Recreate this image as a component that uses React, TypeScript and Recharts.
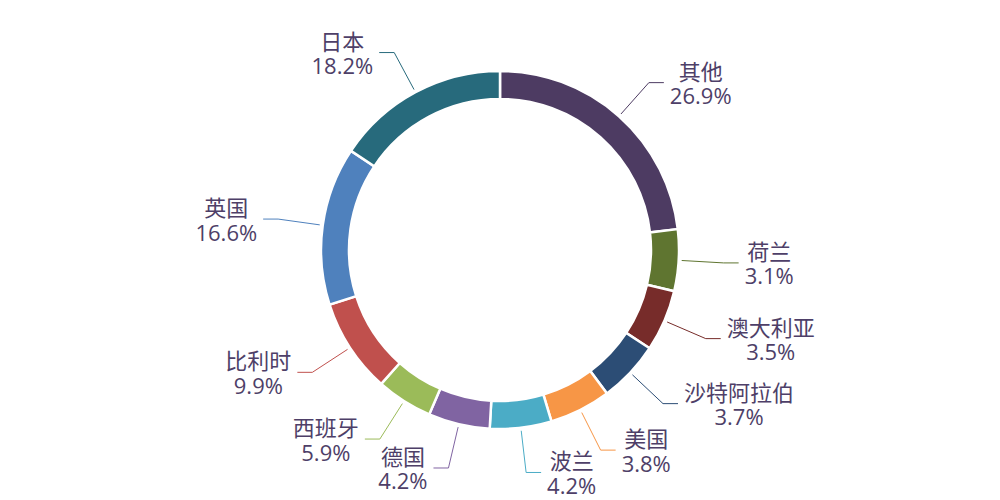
import React from 'react';
import { PieChart, Pie, Cell } from 'recharts';

const countries = ['其他', '荷兰', '澳大利亚', '沙特阿拉伯', '美国', '波兰', '德国', '西班牙', '比利时', '英国', '日本'];
const shares = [26.9, 3.1, 3.5, 3.7, 3.8, 4.2, 4.2, 5.9, 9.9, 16.6, 18.2];
const colors = ['#4D3B62', '#5F7530', '#772C2A', '#2C4D75', '#F79646', '#4BACC6', '#8064A2', '#9BBB59', '#C0504D', '#4F81BD', '#276A7C'];

// small slices are drawn at a minimum sweep, the rest share what is left
const MIN_ANGLE = 20;
const RADIAN = Math.PI / 180;
const TEXT_COLOR = '#4e3f68';
const FONT = '"Open Sans", "Noto Sans CJK SC", sans-serif';
const FONT_SIZE = 22;

function sweepAngles(values: number[]) {
  const total = values.reduce((a, b) => a + b, 0);
  const raw = values.map((v) => (v / total) * 360);
  const small = raw.map((a) => a < MIN_ANGLE);
  const smallCount = small.filter(Boolean).length;
  const restValue = values.reduce((s, v, i) => (small[i] ? s : s + v), 0);
  const restAngle = 360 - smallCount * MIN_ANGLE;
  return values.map((v, i) => (small[i] ? MIN_ANGLE : (v / restValue) * restAngle));
}

const angles = sweepAngles(shares);
const data = countries.map((name, i) => ({ name, share: shares[i], sweep: angles[i] }));

let ctx: CanvasRenderingContext2D | null = null;
function textWidth(s: string) {
  if (!ctx) ctx = document.createElement('canvas').getContext('2d');
  if (ctx) {
    ctx.font = `${FONT_SIZE}px ${FONT}`;
    return ctx.measureText(s).width;
  }
  return s.length * FONT_SIZE * 0.6;
}

const renderLabel = (props: any) => {
  const { cx, cy, midAngle, outerRadius, index } = props;
  const item = data[index];
  const cos = Math.cos(-midAngle * RADIAN);
  const sin = Math.sin(-midAngle * RADIAN);
  const r1 = outerRadius + 3;
  const r2 = outerRadius + 45;
  const sx = cx + r1 * cos;
  const sy = cy + r1 * sin;
  const mx = cx + r2 * cos;
  const my = cy + r2 * sin;
  const right = cos >= 0;
  const ex = mx + (right ? 15 : -15);
  const line1 = item.name;
  const line2 = `${item.share.toFixed(1)}%`;
  const w = Math.max(textWidth(line1), textWidth(line2));
  const blockCenter = right ? ex + 6 + w / 2 : ex - 6 - w / 2;
  return (
    <g key={`label-${index}`}>
      <polyline
        points={`${sx},${sy} ${mx},${my} ${ex},${my}`}
        fill="none"
        stroke={colors[index]}
        strokeWidth={1}
      />
      <text
        textAnchor="middle"
        dominantBaseline="central"
        fill={TEXT_COLOR}
        fontSize={FONT_SIZE}
        fontFamily={FONT}
      >
        <tspan x={blockCenter} y={my - 12}>{line1}</tspan>
        <tspan x={blockCenter} y={my + 12.5}>{line2}</tspan>
      </text>
    </g>
  );
};

export default function App() {
  return (
    <div style={{ position: 'absolute', left: 0, top: 0, width: 1000, height: 500, background: '#fff' }}>
      <PieChart width={1000} height={500} margin={{ top: 0, right: 0, bottom: 0, left: 0 }}>
        <Pie
          data={data}
          dataKey="sweep"
          nameKey="name"
          cx={500}
          cy={250}
          innerRadius={151}
          outerRadius={179}
          startAngle={90}
          endAngle={-270}
          stroke="#ffffff"
          strokeWidth={2.5}
          label={renderLabel}
          labelLine={false}
          isAnimationActive={false}
        >
          {data.map((entry, index) => (
            <Cell key={`cell-${index}`} fill={colors[index]} />
          ))}
        </Pie>
      </PieChart>
    </div>
  );
}
